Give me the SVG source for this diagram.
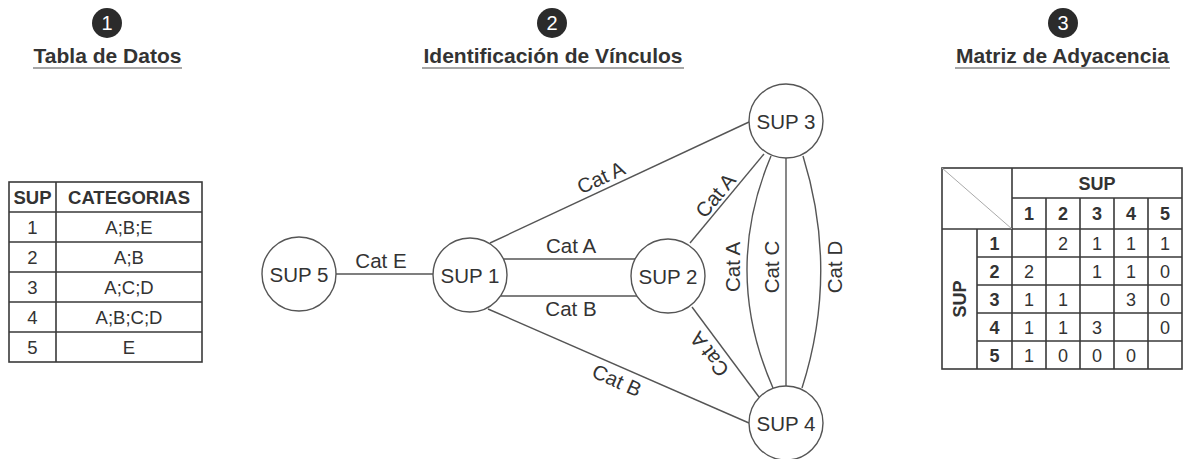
<svg xmlns="http://www.w3.org/2000/svg" width="1184" height="459" viewBox="0 0 1184 459">
  <style>
    text { font-family: "Liberation Sans", Arial, sans-serif; fill: #333; }
    .title { font-size: 21px; font-weight: bold; text-anchor: middle; }
    .uline { stroke: #888; stroke-width: 1.6; }
    .badge { fill: #2b2b2b; }
    .badge-num { font-size: 20px; fill: #fff; text-anchor: middle; }
    .grid { fill: none; stroke: #3a3a3a; stroke-width: 1.6; }
    .th { font-size: 18.5px; font-weight: bold; text-anchor: middle; }
    .td { font-size: 18.5px; text-anchor: middle; }
    .mh { font-size: 18px; font-weight: bold; text-anchor: middle; }
    .md { font-size: 18px; text-anchor: middle; }
    .node circle { fill: #fff; stroke: #555; stroke-width: 1.4; }
    .node text { font-size: 20.5px; text-anchor: middle; }
    .edge { fill: none; stroke: #555; stroke-width: 1.4; }
    .elabel { font-size: 20.5px; text-anchor: middle; }
  </style>

  <!-- section headers -->
  <g id="header-1">
    <circle class="badge" cx="107" cy="23" r="15"/>
    <text class="badge-num" x="107" y="30">1</text>
    <text class="title" x="107.5" y="63">Tabla de Datos</text>
    <line class="uline" x1="33" y1="68" x2="182" y2="68"/>
  </g>
  <g id="header-2">
    <circle class="badge" cx="552" cy="23" r="15"/>
    <text class="badge-num" x="552" y="30">2</text>
    <text class="title" x="553" y="63">Identificación de Vínculos</text>
    <line class="uline" x1="422" y1="68" x2="684" y2="68"/>
  </g>
  <g id="header-3">
    <circle class="badge" cx="1063" cy="23" r="15"/>
    <text class="badge-num" x="1063" y="30">3</text>
    <text class="title" x="1062.5" y="63">Matriz de Adyacencia</text>
    <line class="uline" x1="955" y1="68" x2="1170" y2="68"/>
  </g>

  <!-- data table -->
  <g id="data-table">
    <rect class="grid" x="9" y="182" width="193" height="180"/>
    <path class="grid" d="M56 182V362M9 212H202M9 242H202M9 272H202M9 302H202M9 332H202"/>
    <text class="th" x="32.5" y="203.5">SUP</text>
    <text class="th" x="129" y="203.5">CATEGORIAS</text>
    <text class="td" x="32.5" y="233.5">1</text>
    <text class="td" x="129" y="233.5">A;B;E</text>
    <text class="td" x="32.5" y="263.5">2</text>
    <text class="td" x="129" y="263.5">A;B</text>
    <text class="td" x="32.5" y="293.5">3</text>
    <text class="td" x="129" y="293.5">A;C;D</text>
    <text class="td" x="32.5" y="323.5">4</text>
    <text class="td" x="129" y="323.5">A;B;C;D</text>
    <text class="td" x="32.5" y="353.5">5</text>
    <text class="td" x="129" y="353.5">E</text>
  </g>

  <!-- connectors -->
  <g id="connectors">
    <line class="edge" x1="336" y1="274" x2="433" y2="274"/>
    <line class="edge" x1="503" y1="259" x2="635" y2="259"/>
    <line class="edge" x1="501" y1="296" x2="637" y2="296"/>
    <line class="edge" x1="490" y1="243" x2="749" y2="122"/>
    <line class="edge" x1="488" y1="309" x2="749" y2="423"/>
    <line class="edge" x1="690" y1="243" x2="764" y2="154"/>
    <line class="edge" x1="692" y1="307" x2="759" y2="397"/>
    <line class="edge" x1="786" y1="158" x2="786" y2="386"/>
    <path class="edge" d="M771 156Q722 272 773 388"/>
    <path class="edge" d="M803 156Q839 272 802 388"/>

    <text class="elabel" x="381" y="268">Cat E</text>
    <text class="elabel" x="571" y="253">Cat A</text>
    <text class="elabel" x="571" y="316">Cat B</text>
    <text class="elabel" transform="translate(604,184) rotate(-25)">Cat A</text>
    <text class="elabel" transform="translate(614,387) rotate(24)">Cat B</text>
    <text class="elabel" transform="translate(721,200) rotate(-50)">Cat A</text>
    <text class="elabel" transform="translate(715,350) rotate(-127)">Cat A</text>
    <text class="elabel" transform="translate(740,267) rotate(-90)">Cat A</text>
    <text class="elabel" transform="translate(779,267) rotate(-90)">Cat C</text>
    <text class="elabel" transform="translate(842,267) rotate(-90)">Cat D</text>
  </g>

  <!-- graph nodes -->
  <g id="sup5" class="node">
    <circle cx="299" cy="274" r="37"/>
    <text x="299" y="281.5">SUP 5</text>
  </g>
  <g id="sup1" class="node">
    <circle cx="470" cy="275" r="37"/>
    <text x="470" y="282.5">SUP 1</text>
  </g>
  <g id="sup2" class="node">
    <circle cx="668" cy="276" r="37"/>
    <text x="668" y="283.5">SUP 2</text>
  </g>
  <g id="sup3" class="node">
    <circle cx="786" cy="121" r="37"/>
    <text x="786" y="128.5">SUP 3</text>
  </g>
  <g id="sup4" class="node">
    <circle cx="786" cy="423" r="37"/>
    <text x="786" y="430.5">SUP 4</text>
  </g>

  <!-- adjacency matrix -->
  <g id="adjacency-matrix">
    <rect class="grid" x="942" y="168" width="240" height="201"/>
    <path class="grid" d="M977 229V369M1012 168V369M1046 198V369M1080 198V369M1114 198V369M1148 198V369M1012 198H1182M942 229H1182M977 257H1182M977 285H1182M977 313H1182M977 341H1182"/>
    <line x1="942" y1="168" x2="1012" y2="229" stroke="#aaa" stroke-width="1"/>
    <text class="mh" x="1097" y="189.5">SUP</text>
    <text class="mh" transform="translate(966,299) rotate(-90)">SUP</text>
    <text class="mh" x="1029" y="220">1</text>
    <text class="mh" x="1063" y="220">2</text>
    <text class="mh" x="1097" y="220">3</text>
    <text class="mh" x="1131" y="220">4</text>
    <text class="mh" x="1165" y="220">5</text>
    <text class="mh" x="994.5" y="249.5">1</text>
    <text class="mh" x="994.5" y="277.5">2</text>
    <text class="mh" x="994.5" y="305.5">3</text>
    <text class="mh" x="994.5" y="333.5">4</text>
    <text class="mh" x="994.5" y="361.5">5</text>
    <text class="md" x="1063" y="249.5">2</text>
    <text class="md" x="1097" y="249.5">1</text>
    <text class="md" x="1131" y="249.5">1</text>
    <text class="md" x="1165" y="249.5">1</text>
    <text class="md" x="1029" y="277.5">2</text>
    <text class="md" x="1097" y="277.5">1</text>
    <text class="md" x="1131" y="277.5">1</text>
    <text class="md" x="1165" y="277.5">0</text>
    <text class="md" x="1029" y="305.5">1</text>
    <text class="md" x="1063" y="305.5">1</text>
    <text class="md" x="1131" y="305.5">3</text>
    <text class="md" x="1165" y="305.5">0</text>
    <text class="md" x="1029" y="333.5">1</text>
    <text class="md" x="1063" y="333.5">1</text>
    <text class="md" x="1097" y="333.5">3</text>
    <text class="md" x="1165" y="333.5">0</text>
    <text class="md" x="1029" y="361.5">1</text>
    <text class="md" x="1063" y="361.5">0</text>
    <text class="md" x="1097" y="361.5">0</text>
    <text class="md" x="1131" y="361.5">0</text>
  </g>
</svg>
